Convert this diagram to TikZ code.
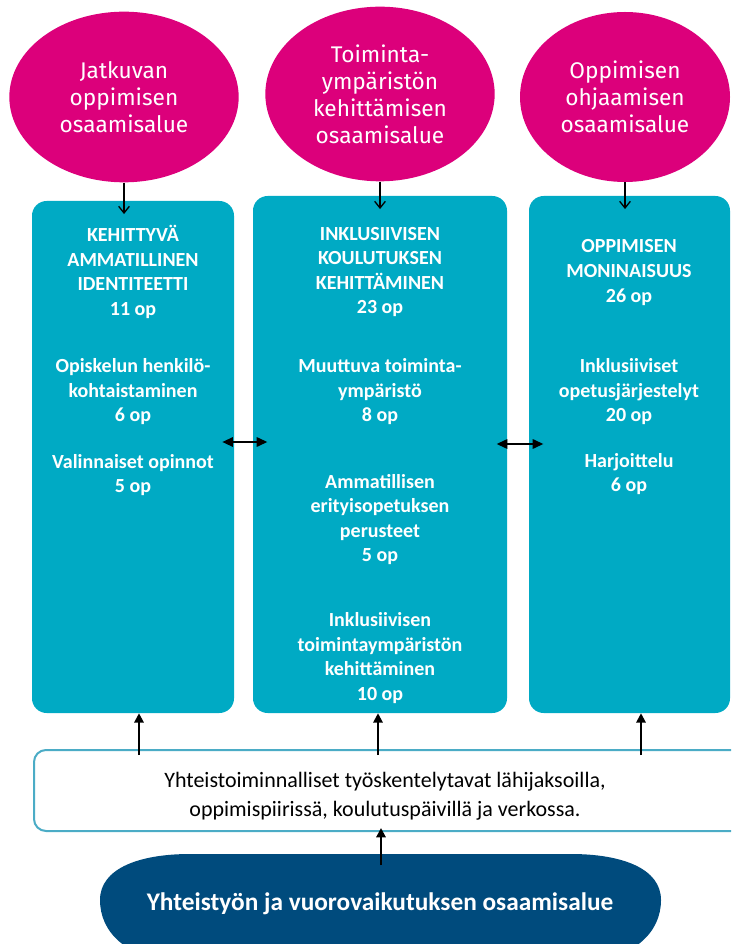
\documentclass[tikz,border=0pt]{standalone}
\usepackage{fontspec}
\setmainfont{Carlito}
\newfontfamily\alueteksti{Fira Sans}
\usetikzlibrary{shapes.geometric,arrows.meta}

\definecolor{pinkki}{HTML}{DC007B}
\definecolor{turkoosi}{HTML}{00AAC4}
\definecolor{tummasin}{HTML}{004B7D}
\definecolor{reuna}{HTML}{4BACC6}

\tikzset{
  alue/.style={ellipse, fill=pinkki, text=white, align=center, inner sep=0pt,
    font=\alueteksti\fontsize{17}{20.25}\selectfont},
  laatikko/.style={rectangle, rounded corners=11pt, fill=turkoosi, inner sep=0pt},
  sisalto/.style={text=white, align=center, inner sep=0pt,
    font=\bfseries\fontsize{15}{18.4}\selectfont},
  alas/.style={-{Straight Barb[length=5pt,width=8pt]}, line width=1pt},
  ylos/.style={-{Triangle[length=7pt,width=7pt]}, line width=1.5pt},
  molemmat/.style={{Triangle[length=8pt,width=7pt]}-{Triangle[length=8pt,width=7pt]}, line width=1.5pt}
}

\begin{document}
\begin{tikzpicture}[x=0.75pt,y=-0.75pt]
\useasboundingbox (0,0) rectangle (731,944);
\clip (0,0) rectangle (731,944);

\node[alue, minimum width=172pt, minimum height=128pt] (a1) at (124,97) {Jatkuvan\\oppimisen\\osaamisalue};
\node[alue, minimum width=172pt, minimum height=131pt] (a2) at (380,94) {Toiminta-\\ympäristön\\kehittämisen\\osaamisalue};
\node[alue, minimum width=157.5pt, minimum height=127.5pt] (a3) at (625,97) {Oppimisen\\ohjaamisen\\osaamisalue};

\node[laatikko, minimum width=151.5pt, minimum height=384pt] (b1) at (133,457) {};
\node[laatikko, minimum width=190.5pt, minimum height=387.75pt] (b2) at (380,454.5) {};
\node[laatikko, minimum width=150.75pt, minimum height=387.75pt] (b3) at (629.5,454.5) {};

\node[sisalto] (t11) at (133,272) {KEHITTYVÄ\\AMMATILLINEN\\IDENTITEETTI\\11 op};
\node[sisalto] (t12) at (133,392) {Opiskelun henkilö-\\kohtaistaminen\\6 op};
\node[sisalto] (t13) at (133,475) {Valinnaiset opinnot\\5 op};

\node[sisalto] (t21) at (380,272) {INKLUSIIVISEN\\KOULUTUKSEN\\KEHITTÄMINEN\\23 op};
\node[sisalto] (t22) at (380,392) {Muuttuva toiminta-\\ympäristö\\8 op};
\node[sisalto] (t23) at (380,519.5) {Ammatillisen\\erityisopetuksen\\perusteet\\5 op};
\node[sisalto] (t24) at (380,658) {Inklusiivisen\\toimintaympäristön\\kehittäminen\\10 op};

\node[sisalto] (t31) at (629,272.5) {OPPIMISEN\\MONINAISUUS\\26 op};
\node[sisalto] (t32) at (629,392) {Inklusiiviset\\opetusjärjestelyt\\20 op};
\node[sisalto] (t33) at (629,474) {Harjoittelu\\6 op};

\node[draw=reuna, line width=1.5pt, rounded corners=9pt, fill=white, inner sep=0pt,
  minimum width=544.5pt, minimum height=60.75pt] (w) at (397,790.5) {};
\node[align=center, font=\fontsize{16.5}{21.75}\selectfont] (wt) at (385,796)
  {Yhteistoiminnalliset työskentelytavat lähijaksoilla,\\oppimispiirissä, koulutuspäivillä ja verkossa.};

\fill[tummasin] (100,900) .. controls (100,868) and (140,854) .. (190,854) -- (571,854)
  .. controls (621,854) and (661,868) .. (661,900) .. controls (661,932) and (635,958) .. (585,962)
  -- (176,962) .. controls (126,958) and (100,932) .. (100,900) -- cycle;
\node[text=white, font=\bfseries\fontsize{19}{23}\selectfont] (y) at (380,904) {Yhteistyön ja vuorovaikutuksen osaamisalue};

\draw[alas, shorten >=-10pt] (a1.south) -- (a1.south |- b1.north);
\draw[alas, shorten >=-10pt] (a2.south) -- (a2.south |- b2.north);
\draw[alas, shorten >=-10pt] (a3.south) -- (a3.south |- b3.north);

\coordinate (v1) at (0,442);
\coordinate (v2) at (0,444);
\draw[molemmat, shorten <=-9pt, shorten >=-11pt] (b1.east |- v1) -- (b2.west |- v1);
\draw[molemmat, shorten <=-8pt, shorten >=-11pt] (b2.east |- v2) -- (b3.west |- v2);

\coordinate (u1) at (139,755);
\coordinate (u2) at (378,755);
\coordinate (u3) at (641,755);
\coordinate (u4) at (381,865);
\draw[ylos] (u1) -- (u1 |- b1.south);
\draw[ylos] (u2) -- (u2 |- b2.south);
\draw[ylos] (u3) -- (u3 |- b3.south);
\draw[ylos, shorten >=-3pt] (u4) -- (u4 |- w.south);
\end{tikzpicture}
\end{document}
